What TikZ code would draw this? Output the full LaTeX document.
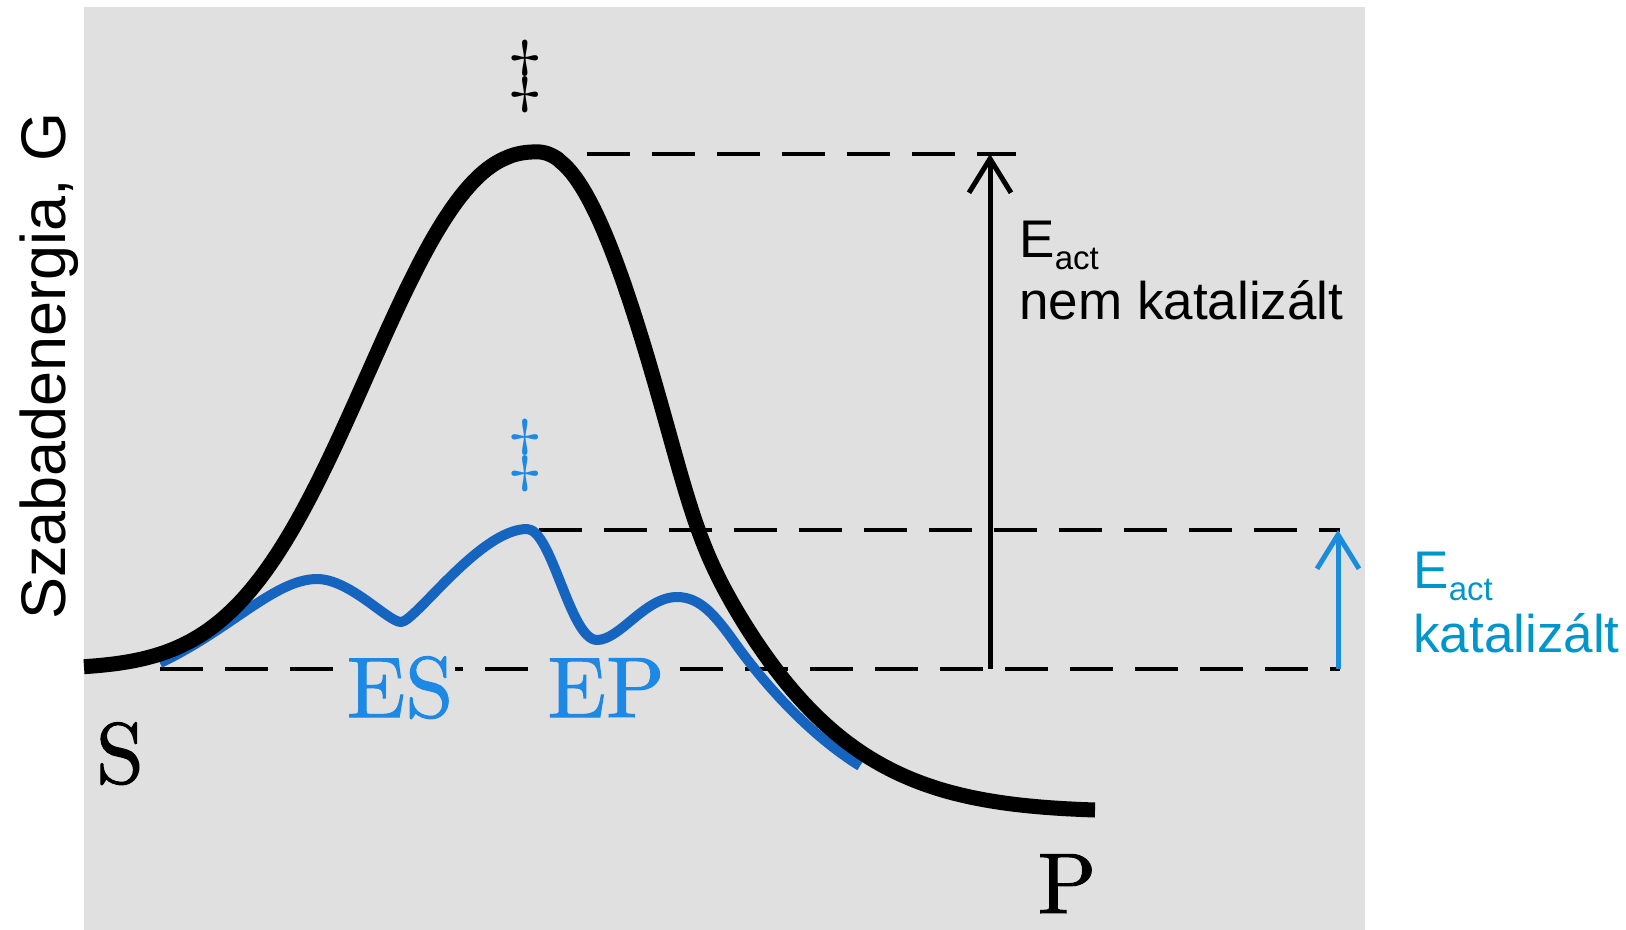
\documentclass[tikz,border=0pt]{standalone}
\usepackage{fontspec}
\usepackage{graphicx}
\newfontfamily\arial{Liberation Sans}
\newfontfamily\lmten{lmroman10-regular.otf}[FakeBold=1.2]
\usetikzlibrary{arrows.meta}
\definecolor{bgray}{RGB}{224,224,224}
\definecolor{curveblue}{RGB}{21,101,192}
\definecolor{labelblue}{RGB}{30,136,229}
\definecolor{textblue}{RGB}{0,150,204}
\definecolor{arrowblue}{RGB}{25,140,220}
\begin{document}
\begin{tikzpicture}[x=0.5pt,y=-0.5pt,
  declare function={
    pw(\d)=1.4+0.7/(1+exp(min((\d-155)/15,9)));
    hh(\d)=exp(-((\d/178)^(pw(\d))))*(1-(\d/558)^4);
  },
  energy/.style={line width=7.5pt, line join=round},
  catal/.style={draw=curveblue, line width=5pt, line join=round},
  level/.style={line width=2pt, dash pattern=on 21.5pt off 11pt},
  barrow/.style={line width=2.5pt, -{Straight Barb[length=17pt,width=21pt]}},
  sanslab/.style={anchor=base west, inner sep=0pt, font=\arial\fontsize{26.5}{30}\selectfont},
  seriflab/.style={anchor=base, inner sep=1pt, font=\lmten\fontsize{43}{50}\selectfont},
  tsmark/.style={inner sep=0pt, font=\fontsize{10}{12}\selectfont}]
\useasboundingbox (0,0) rectangle (1626,930);
\fill[bgray] (84,7) rectangle (1365,930);

% level coordinates
\coordinate (topL) at (587,154);
\coordinate (topR) at (1016,154);
\coordinate (midL) at (539,530);
\coordinate (midR) at (1340,530);
\coordinate (botL) at (160,669);
\coordinate (botR) at (1340,669);
\coordinate (aB) at (990,669);
\coordinate (aT) at (990,154);
\coordinate (bB) at (1338,669);
\coordinate (bT) at (1338,530);

\draw[level] (topL) -- (topR);
\draw[level] (midL) -- (midR);
\draw[level] (botL) -- (botR);

% ES / EP labels covering the dashes
\node[seriflab, fill=bgray, text=labelblue] (es) at (400,717) {ES};
\node[seriflab, fill=bgray, text=labelblue] (ep) at (606,717) {EP};

% catalysed path
\draw[catal] (160,663) .. controls (230,630) and (275,579) .. (317,579)
  .. controls (350,579) and (388,622) .. (401,622)
  .. controls (415,622) and (480,529) .. (527,529)
  .. controls (552,529) and (570,640) .. (597,640)
  .. controls (620,640) and (645,597) .. (677,597)
  .. controls (700,597) and (715,615) .. (735,643)
  .. controls (765,685) and (810,735) .. (860,766);

% uncatalysed path
\draw[energy] plot[domain=84:536.9, samples=120]
   (\x, {669-517*exp(-(((537-\x)/217.6)^2.3))})
  -- plot[domain=537.5:1095, samples=220]
   (\x, {810-658*hh(\x-537)});

% arrows
\draw[barrow] (aB) -- (aT);
\draw[barrow, arrowblue] (bB) -- (bT);

% transition state marks
\node[tsmark] (ts1) at (525,77) {\scalebox{4.0}{$\ddagger$}};
\node[tsmark, text=labelblue] (ts2) at (525,455) {\scalebox{4.0}{$\ddagger$}};

% S and P
\node[seriflab] (S) at (120,783) {S};
\node[seriflab] (P) at (1067,913) {P};

% labels
\node[sanslab] (eact1) at (1019,258) {E\raisebox{-6pt}{\fontsize{16.5}{18}\selectfont act}};
\node[sanslab] (nk) at (1019,320) {nem katalizált};
\node[sanslab, text=textblue] (eact2) at (1413,588) {E\raisebox{-6pt}{\fontsize{16.5}{18}\selectfont act}};
\node[sanslab, text=textblue] (k) at (1413,652) {katalizált};

\node[rotate=90, anchor=base, inner sep=0pt, font=\arial\fontsize{31.5}{36}\selectfont] (ylab) at (65,366) {Szabadenergia, G};
\end{tikzpicture}
\end{document}
